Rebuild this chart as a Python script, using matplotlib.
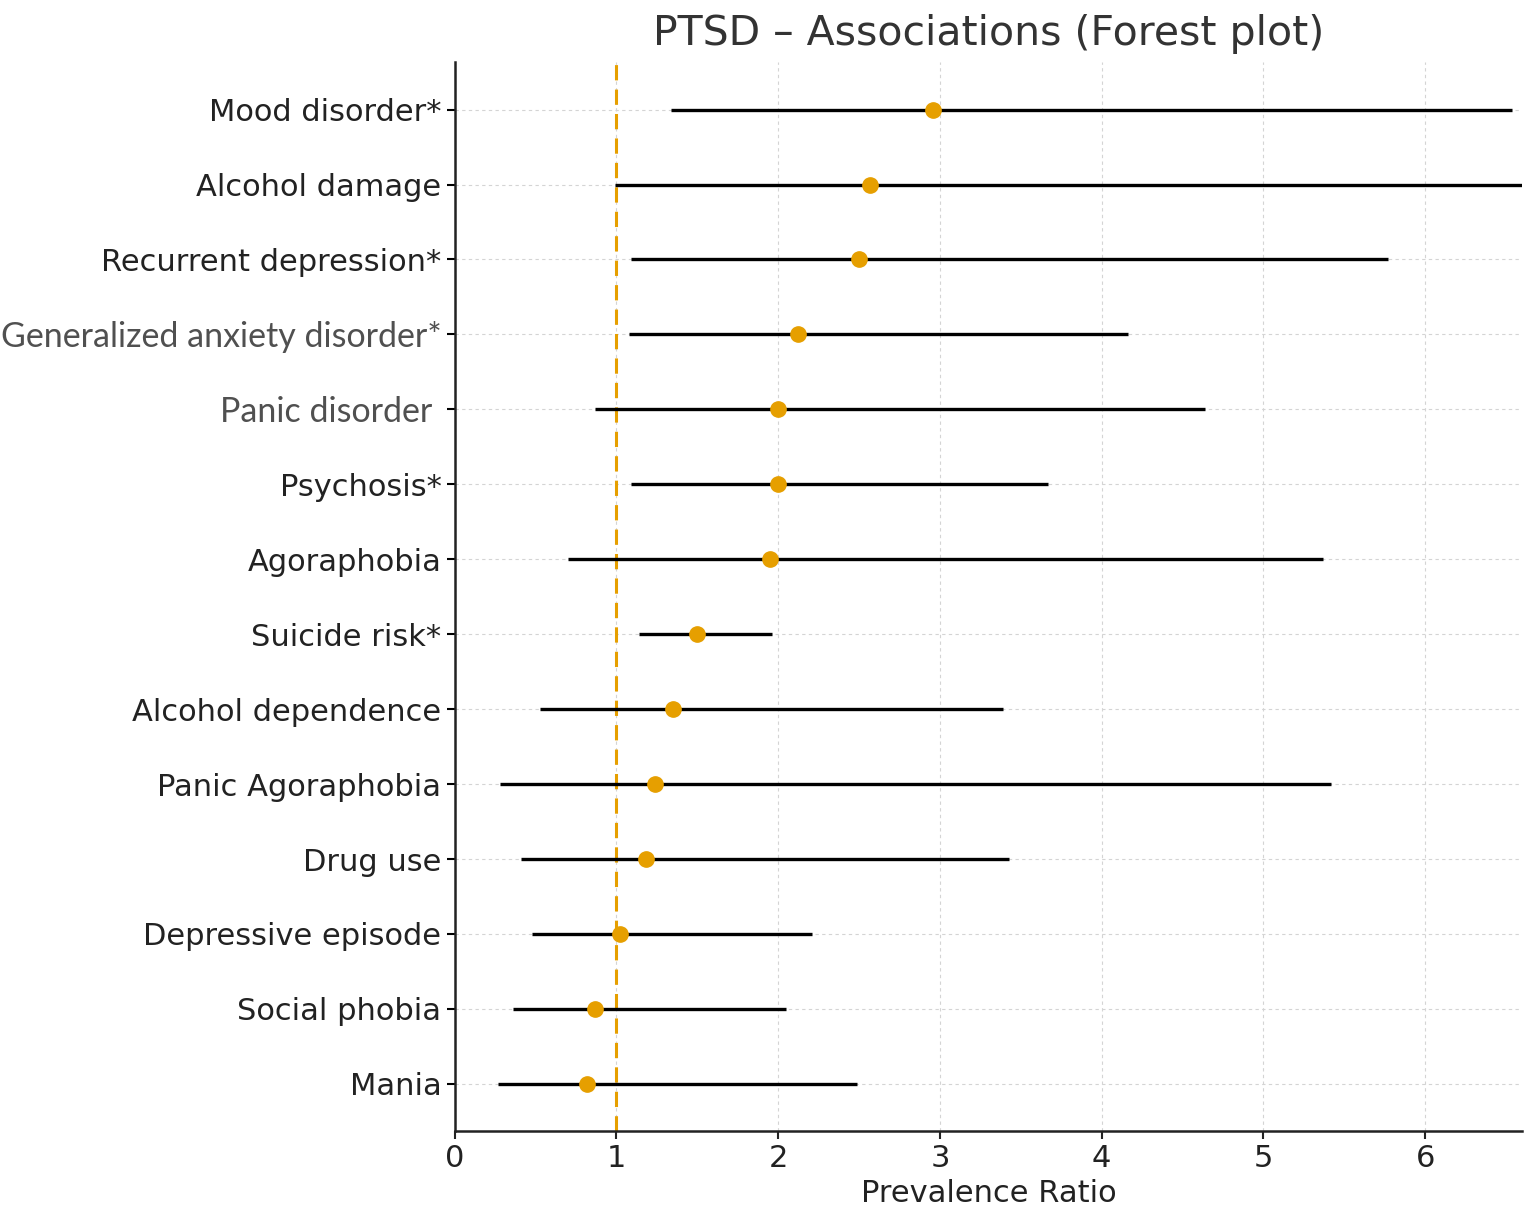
import numpy as np
import matplotlib
matplotlib.use("Agg")
import matplotlib.pyplot as plt

# data (top row first)
labels = ["Mood disorder*", "Alcohol damage", "Recurrent depression*",
          "Generalized anxiety disorder*", "Panic disorder ", "Psychosis*",
          "Agoraphobia", "Suicide risk*", "Alcohol dependence",
          "Panic Agoraphobia", "Drug use", "Depressive episode",
          "Social phobia", "Mania"]
pr = [2.96, 2.57, 2.50, 2.12, 2.00, 2.00, 1.95, 1.50, 1.35, 1.24, 1.18, 1.02, 0.87, 0.82]
ci_low = [1.34, 0.99, 1.09, 1.08, 0.87, 1.09, 0.70, 1.14, 0.53, 0.28, 0.41, 0.48, 0.36, 0.27]
ci_high = [6.54, 7.40, 5.77, 4.16, 4.64, 3.67, 5.37, 1.96, 3.39, 5.42, 3.43, 2.21, 2.05, 2.49]
# labels pasted in another font in the source figure
odd_labels = ["Generalized anxiety disorder*", "Panic disorder "]

orange = "#E69F00"

fig = plt.figure(figsize=(15.36, 12.18), dpi=100)
ax = fig.add_axes([0.296, 0.0714, 0.695, 0.878])

n = len(labels)
y = np.arange(n)[::-1]

ax.hlines(y, ci_low, ci_high, color="black", linewidth=2.4, zorder=3)
ax.plot(pr, y, "o", color=orange, markersize=11, zorder=4)
ax.axvline(1, color=orange, linestyle=(0, (5, 3)), linewidth=2.2, zorder=2)

ax.set_yticks(y)
ax.set_yticklabels(labels, fontsize=22, color="#222222")
for t in ax.get_yticklabels():
    if t.get_text() in odd_labels:
        t.set_fontfamily("Lato")
        t.set_fontsize(24.5)
        t.set_color("#505050")
ax.set_xlim(0, 6.6)
ax.set_ylim(-0.63, n - 1 + 0.64)
ax.set_xticks(range(7))
ax.tick_params(axis="x", labelsize=22, length=6, width=1.5, colors="#222222")
ax.tick_params(axis="y", length=6, width=1.5)

ax.grid(True, linestyle=(0, (3, 3)), linewidth=0.8, color="#d4d4d4", zorder=0)
ax.set_axisbelow(True)
for side in ["top", "right"]:
    ax.spines[side].set_visible(False)
for side in ["left", "bottom"]:
    ax.spines[side].set_linewidth(1.8)
    ax.spines[side].set_color("#222222")

ax.set_xlabel("Prevalence Ratio", fontsize=22, color="#222222", labelpad=4)
ax.set_title("PTSD \u2013 Associations (Forest plot)", fontsize=29.5, color="#333333", pad=12)

fig.savefig("out.png", dpi=100)
